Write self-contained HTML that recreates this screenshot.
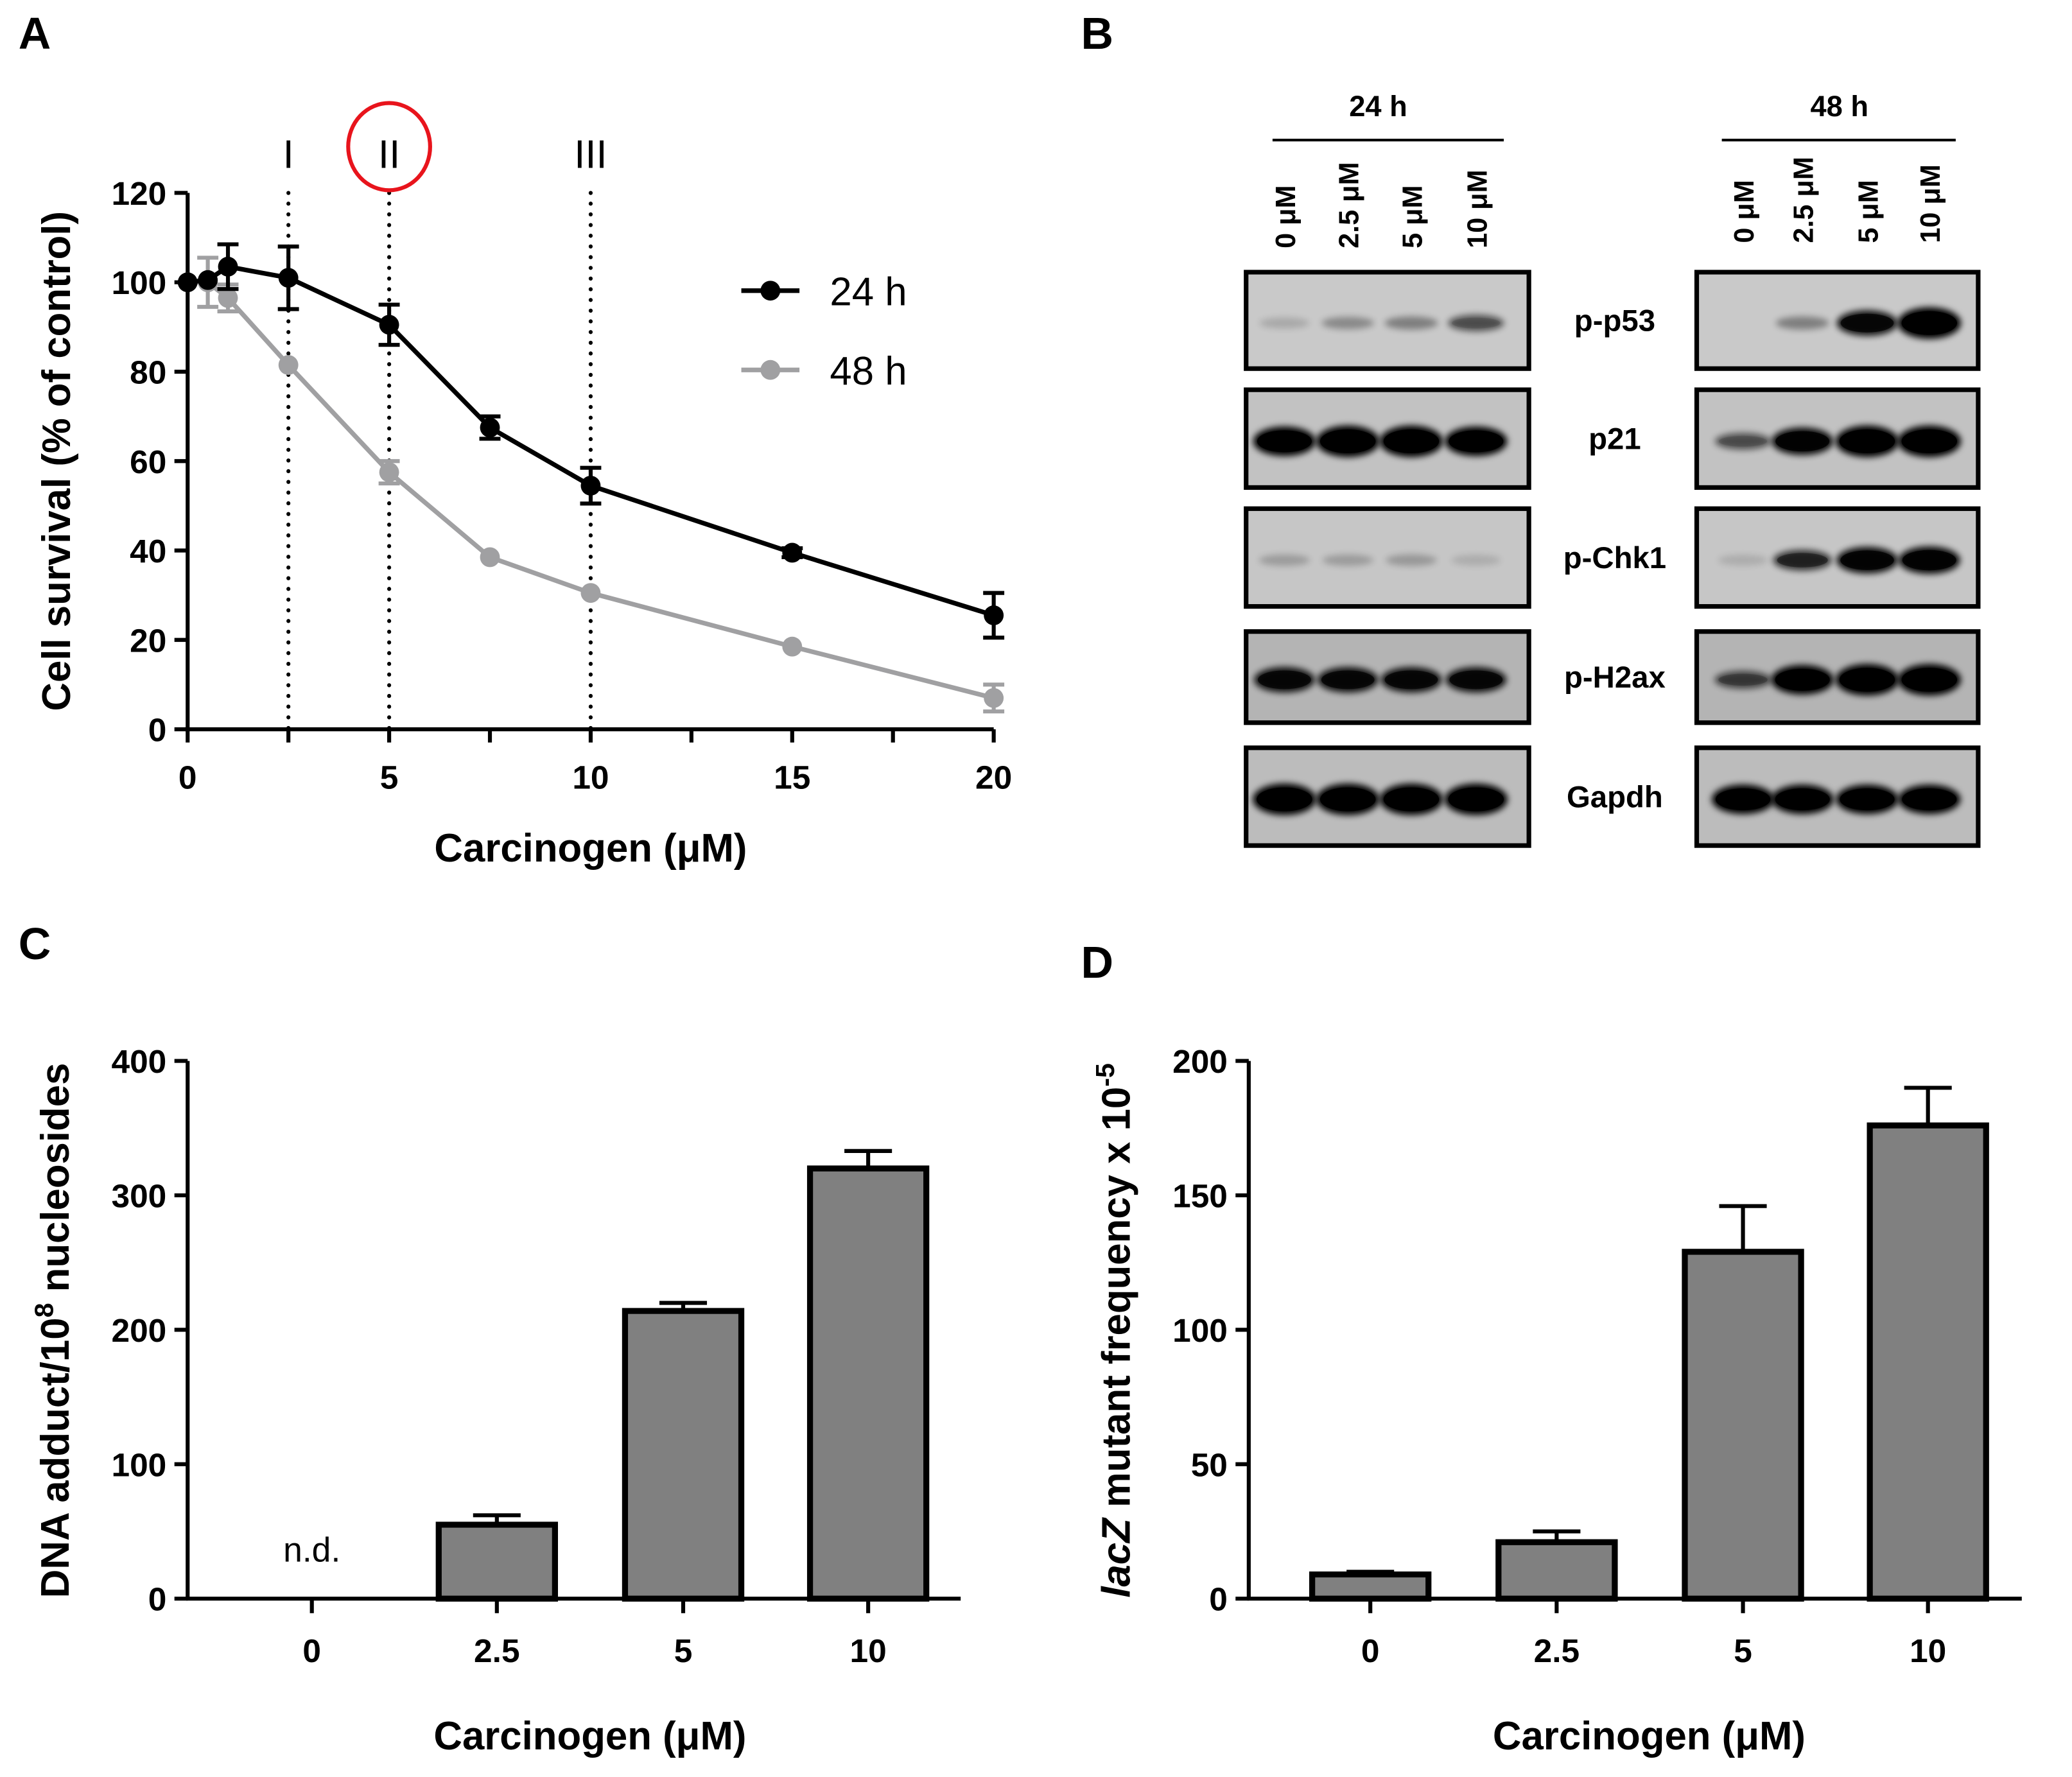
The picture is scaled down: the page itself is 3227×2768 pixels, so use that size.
<!DOCTYPE html>
<html><head><meta charset="utf-8">
<style>
html,body{margin:0;padding:0;background:#fff;}
svg{display:block;}
text{font-family:"Liberation Sans",sans-serif;}
</style></head>
<body>
<svg id="fig" width="3227" height="2768" viewBox="0 0 1568 1345" preserveAspectRatio="none" xmlns="http://www.w3.org/2000/svg">
<defs>
<filter id="blur" x="-30%" y="-80%" width="160%" height="260%"><feGaussianBlur stdDeviation="2.5"/></filter>
</defs>
<g id="gA"></g>
<g id="gB"></g>
<g id="gC"></g>
<g id="gD"></g>
</svg>
<script>
// ---- Panel A data ----
const doseA = [0, 0.5, 1, 2.5, 5, 7.5, 10, 15, 20];
const surv24 = [100, 100.5, 103.5, 101, 90.5, 67.5, 54.5, 39.5, 25.5];
const err24 = [0, 0, 5, 7, 4.5, 2.5, 4, 1, 5];
const surv48 = [100, 100, 96.5, 81.5, 57.5, 38.5, 30.5, 18.5, 7];
const err48 = [0, 5.5, 3, 0, 2.5, 0, 0, 0, 3];
const xTicksA = [0, 5, 10, 15, 20];
const yTicksA = [0, 20, 40, 60, 80, 100, 120];
const markerDoses = [2.5, 5, 10];
const markerLabels = ['I', 'II', 'III'];
// ---- Panel B data ----
const blotLanes = ['0 μM', '2.5 μM', '5 μM', '10 μM'];
const blotProteins = ['p-p53', 'p21', 'p-Chk1', 'p-H2ax', 'Gapdh'];
const int24 = [[0.15,0.3,0.35,0.55],[0.95,1,1,0.95],[0.2,0.2,0.22,0.12],[0.85,0.85,0.85,0.85],[1,1,1,1]];
const int48 = [[0,0.35,0.85,1],[0.55,0.9,1,1],[0.12,0.7,0.88,0.9],[0.6,0.95,1,1],[0.95,0.95,0.95,0.95]];
// ---- Panel C data ----
const catsC = ['0', '2.5', '5', '10'];
const valsC = [0, 55, 214, 320];
const errC = [0, 7, 6, 13];
const yTicksC = [0, 100, 200, 300, 400];
// ---- Panel D data ----
const catsD = ['0', '2.5', '5', '10'];
const valsD = [9, 21, 129, 176];
const errD = [1, 4, 17, 14];
const yTicksD = [0, 50, 100, 150, 200];

const NS = 'http://www.w3.org/2000/svg';
function mk(parent, tag, attrs, txt) {
  const e = document.createElementNS(NS, tag);
  for (const k in attrs) e.setAttribute(k, attrs[k]);
  if (txt !== undefined) e.textContent = txt;
  parent.appendChild(e);
  return e;
}

// ================= Panel A =================
const gA = document.getElementById('gA');
const ax = v => 142 + v / 20 * 610;
const ay = v => 552 - v / 120 * 406;
let t = mk(gA, 'text', {x: 14, y: 37, 'font-size': 34, 'font-weight': 'bold'}, 'A');


let l = mk(gA, 'line', {x1: 142, y1: 146, x2: 142, y2: 553, stroke: '#000', 'stroke-width': 3});


l = mk(gA, 'line', {x1: 140, y1: 552, x2: 752, y2: 552, stroke: '#000', 'stroke-width': 3});


yTicksA.forEach(v => {
  mk(gA, 'line', {x1: 132, y1: ay(v), x2: 142, y2: ay(v), stroke: '#000', 'stroke-width': 3});
  const tt = mk(gA, 'text', {x: 126, y: ay(v) + 9, 'font-size': 25, 'font-weight': 'bold', 'text-anchor': 'end'}, v);
  
  
});
for (let v = 0; v <= 20; v += 2.5) {
  mk(gA, 'line', {x1: ax(v), y1: 552, x2: ax(v), y2: 562, stroke: '#000', 'stroke-width': 3});
}
xTicksA.forEach(v => {
  const tt = mk(gA, 'text', {x: ax(v), y: 597, 'font-size': 25, 'font-weight': 'bold', 'text-anchor': 'middle'}, v);
  
  
});
t = mk(gA, 'text', {x: 447, y: 652, 'font-size': 30, 'font-weight': 'bold', 'text-anchor': 'middle'}, 'Carcinogen (μM)');


t = mk(gA, 'text', {x: 0, y: 0, 'font-size': 30, 'font-weight': 'bold', 'text-anchor': 'middle', transform: 'translate(53,349) rotate(-90)'}, 'Cell survival (% of control)');


markerDoses.forEach((d, i) => {
  const dl = mk(gA, 'line', {x1: ax(d), y1: 146, x2: ax(d), y2: 552, stroke: '#000', 'stroke-width': 3, 'stroke-dasharray': '0.1 8', 'stroke-linecap': 'round'});
  
  
  const ml = mk(gA, 'text', {x: ax(d), y: 127, 'font-size': 30, 'text-anchor': 'middle'}, markerLabels[i]);
  
  
});
const circ = mk(gA, 'ellipse', {cx: ax(5), cy: 111, rx: 31, ry: 33, fill: 'none', stroke: '#e8141c', 'stroke-width': 3});


function series(vals, errs, color, name) {
  const pts = doseA.map((d, i) => ax(d) + ',' + ay(vals[i])).join(' ');
  const pl = mk(gA, 'polyline', {points: pts, fill: 'none', stroke: color, 'stroke-width': 3.5});
  
  
  doseA.forEach((d, i) => {
    if (errs[i] > 0) {
      const x = ax(d), y1 = ay(vals[i] + errs[i]), y2 = ay(vals[i] - errs[i]);
      mk(gA, 'line', {x1: x, y1: y1, x2: x, y2: y2, stroke: color, 'stroke-width': 3});
      mk(gA, 'line', {x1: x - 8, y1: y1, x2: x + 8, y2: y1, stroke: color, 'stroke-width': 3});
      mk(gA, 'line', {x1: x - 8, y1: y2, x2: x + 8, y2: y2, stroke: color, 'stroke-width': 3});
    }
    const c = mk(gA, 'circle', {cx: ax(d), cy: ay(vals[i]), r: 7.5, fill: color});
    
    
  });
}
series(surv48, err48, '#a0a0a2', 'series-48h');
series(surv24, err24, '#000', 'series-24h');
[['24 h', '#000', 220], ['48 h', '#a0a0a2', 280]].forEach(([lab, col, y]) => {
  const lg = mk(gA, 'g', {});
  
  
  mk(lg, 'line', {x1: 561, y1: y, x2: 605, y2: y, stroke: col, 'stroke-width': 3.5});
  mk(lg, 'circle', {cx: 583, cy: y, r: 7.5, fill: col});
  mk(lg, 'text', {x: 628, y: y + 11, 'font-size': 30}, lab);
});

// ================= Panel B =================
const gB = document.getElementById('gB');
t = mk(gB, 'text', {x: 818, y: 37, 'font-size': 34, 'font-weight': 'bold'}, 'B');


const rowsY = [[206, 279], [295, 369], [385, 459], [478, 547], [566, 640]];
const rowBg = ['#c9c9c9', '#c2c2c2', '#c6c6c6', '#b4b4b4', '#bcbcbc'];
const groups = [
  {label: '24 h', hx: 1043, line: [963, 1138], box: [943, 1157], lanes: [972, 1020, 1068, 1117], ints: int24},
  {label: '48 h', hx: 1392, line: [1303, 1480], box: [1284, 1497], lanes: [1319, 1364, 1413, 1460], ints: int48}
];
groups.forEach((g, gi) => {
  const h = mk(gB, 'text', {x: g.hx, y: 88, 'font-size': 22, 'font-weight': 'bold', 'text-anchor': 'middle'}, g.label);
  
  
  mk(gB, 'line', {x1: g.line[0], y1: 106, x2: g.line[1], y2: 106, stroke: '#000', 'stroke-width': 2});
  g.lanes.forEach((lx, li) => {
    const lt = mk(gB, 'text', {x: 0, y: 0, 'font-size': 21, 'font-weight': 'bold', transform: 'translate(' + (lx + 8) + ',' + (gi ? 184 : 188) + ') rotate(-90)'}, blotLanes[li]);
    
    
  });
  rowsY.forEach((ry, ri) => {
    const bg = mk(gB, 'g', {});
    
    
    mk(bg, 'rect', {x: g.box[0], y: ry[0], width: g.box[1] - g.box[0], height: ry[1] - ry[0], fill: rowBg[ri], stroke: '#000', 'stroke-width': 3.5});
    const cy = (ry[0] + ry[1]) / 2 + 2;
    g.lanes.forEach((lx, li) => {
      const v = g.ints[ri][li];
      if (v <= 0) return;
      const strong = v > 0.5;
      const e = mk(bg, 'ellipse', {cx: lx, cy: cy, rx: 18 + 6 * v, ry: 4 + 8 * v * v, fill: '#000', opacity: Math.min(1, v * 1.05), filter: 'url(#blur)'});
      
      
      if (strong) mk(bg, 'ellipse', {cx: lx, cy: cy, rx: 15 + 6 * v, ry: 2 + 7 * v * v, fill: '#000', opacity: Math.min(1, (v - 0.5) * 2)});
    });
  });
});
blotProteins.forEach((p, ri) => {
  const pt = mk(gB, 'text', {x: 1222, y: (rowsY[ri][0] + rowsY[ri][1]) / 2 + 8, 'font-size': 23, 'font-weight': 'bold', 'text-anchor': 'middle'}, p);
  
  
});

// ================= Bar panels =================
function barPanel(g, letter, lx, ly, x0, x1, cats, vals, errs, ticks, ymax, centers, titleParts, titleX, nd) {
  const sy = v => 1210 - v / ymax * 407;
  let tt = mk(g, 'text', {x: lx, y: ly, 'font-size': 34, 'font-weight': 'bold'}, letter);
  
  
  let a = mk(g, 'line', {x1: x0, y1: 803, x2: x0, y2: 1211, stroke: '#000', 'stroke-width': 3});
  
  
  a = mk(g, 'line', {x1: x0 - 1, y1: 1210, x2: x1, y2: 1210, stroke: '#000', 'stroke-width': 3});
  
  
  ticks.forEach(v => {
    mk(g, 'line', {x1: x0 - 10, y1: sy(v), x2: x0, y2: sy(v), stroke: '#000', 'stroke-width': 3});
    const q = mk(g, 'text', {x: x0 - 16, y: sy(v) + 9, 'font-size': 25, 'font-weight': 'bold', 'text-anchor': 'end'}, v);
    
    
  });
  cats.forEach((c, i) => {
    const cx = centers[i];
    mk(g, 'line', {x1: cx, y1: 1210, x2: cx, y2: 1221, stroke: '#000', 'stroke-width': 3});
    const q = mk(g, 'text', {x: cx, y: 1258, 'font-size': 25, 'font-weight': 'bold', 'text-anchor': 'middle'}, c);
    
    
    if (vals[i] > 0) {
      const top = sy(vals[i]), ey = sy(vals[i] + errs[i]);
      mk(g, 'line', {x1: cx, y1: top, x2: cx, y2: ey, stroke: '#000', 'stroke-width': 3});
      mk(g, 'line', {x1: cx - 18, y1: ey, x2: cx + 18, y2: ey, stroke: '#000', 'stroke-width': 3});
      const b = mk(g, 'rect', {x: cx - 44, y: top, width: 88, height: 1210 - top, fill: '#808080', stroke: '#000', 'stroke-width': 4.5});
      
      
    }
  });
  if (nd) {
    const q = mk(g, 'text', {x: centers[0], y: 1182, 'font-size': 26, 'text-anchor': 'middle'}, 'n.d.');
    
    
  }
  tt = mk(g, 'text', {x: (centers[0] + centers[3]) / 2, y: 1324, 'font-size': 30, 'font-weight': 'bold', 'text-anchor': 'middle'}, 'Carcinogen (μM)');
  
  
  tt = mk(g, 'text', {x: 0, y: 0, 'font-size': 30, 'font-weight': 'bold', 'text-anchor': 'middle', transform: 'translate(' + titleX + ',1007) rotate(-90)'});
  
  
  titleParts.forEach(p => {
    mk(tt, 'tspan', p.attrs || {}, p.t);
  });
}
barPanel(document.getElementById('gC'), 'C', 14, 726, 142, 727, catsC, valsC, errC, yTicksC, 400, [236, 376, 517, 657],
  [{t: 'DNA adduct/10'}, {t: '8', attrs: {'font-size': 20, dy: -12}}, {t: ' nucleosides', attrs: {dy: 12}}], 52, true);
barPanel(document.getElementById('gD'), 'D', 818, 740, 945, 1530, catsD, valsD, errD, yTicksD, 200, [1037, 1178, 1319, 1459],
  [{t: 'lacZ', attrs: {'font-style': 'italic'}}, {t: ' mutant frequency x 10'}, {t: '-5', attrs: {'font-size': 20, dy: -12}}], 855, false);
</script>
</body></html>
